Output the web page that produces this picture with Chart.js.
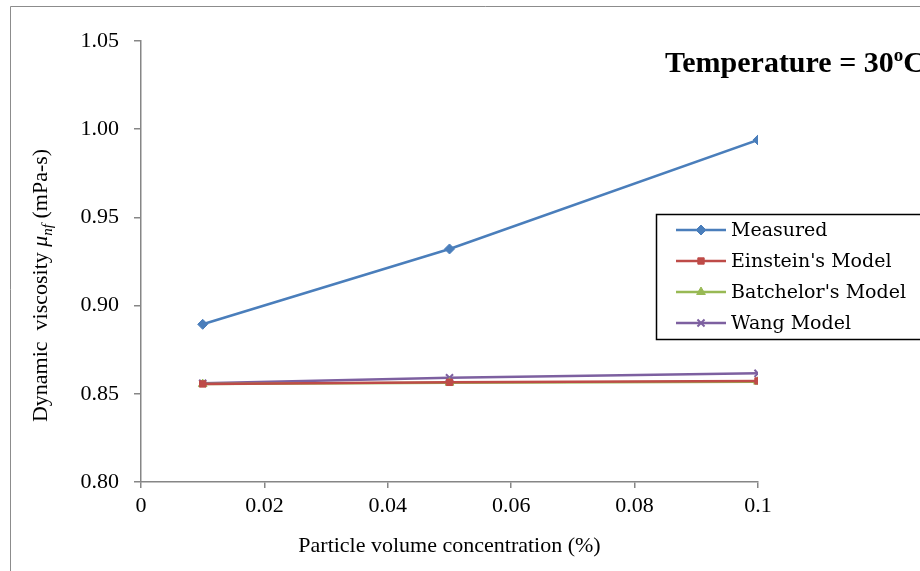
<!DOCTYPE html>
<html>
<head>
<meta charset="utf-8">
<script src="https://cdn.jsdelivr.net/npm/chart.js@4.4.0/dist/chart.umd.min.js"></script>
<style>
  html, body { margin: 0; padding: 0; background: #fff; overflow: hidden; }
  #wrap { position: absolute; left: 0; top: 0; width: 960px; height: 571px; }
</style>
</head>
<body>
<div id="wrap"><canvas id="chart" width="960" height="571"></canvas></div>
<script>
// Data
const concentration = [0.01, 0.05, 0.1];
const measured = [0.8894, 0.9321, 0.9939];
const einstein = [0.8556, 0.8565, 0.8573];
const batchelor = [0.8555, 0.8563, 0.8569];
const wang = [0.8560, 0.8591, 0.8616];

const seriesNames = ['Measured', "Einstein's Model", "Batchelor's Model", 'Wang Model'];
const xTicks = [0, 0.02, 0.04, 0.06, 0.08, 0.1];
const yTicks = [0.80, 0.85, 0.90, 0.95, 1.00, 1.05];

const axisGray = '#868686';
const tickFont = { family: '"Liberation Serif", serif', size: 22 };

function toPoints(values) {
    return concentration.map((x, i) => ({ x: x, y: values[i] }));
}

function makeSet(label, values, color, style, radius) {
    return {
        label: label,
        data: toPoints(values),
        borderColor: color,
        backgroundColor: color,
        borderWidth: 2.5,
        pointStyle: style,
        pointRadius: radius,
        pointBorderWidth: style === 'crossRot' ? 2 : 1,
        pointBorderColor: color,
        pointBackgroundColor: color,
        tension: 0,
        fill: false
    };
}

// outer frame of the chart object (only left and top edges are visible)
const framePlugin = {
    id: 'frame',
    beforeDraw(chart) {
        const ctx = chart.ctx;
        ctx.save();
        ctx.strokeStyle = '#8c8c8c';
        ctx.lineWidth = 1;
        ctx.beginPath();
        ctx.moveTo(10.5, 600);
        ctx.lineTo(10.5, 6.5);
        ctx.lineTo(960, 6.5);
        ctx.stroke();
        ctx.restore();
    }
};

// title with superscript "o"
const titlePlugin = {
    id: 'tempTitle',
    afterDraw(chart) {
        const ctx = chart.ctx;
        ctx.save();
        ctx.fillStyle = '#000';
        ctx.textBaseline = 'alphabetic';
        ctx.font = 'bold 30px "Liberation Serif", serif';
        const main = 'Temperature = 30';
        let x = 665, y = 72;
        ctx.fillText(main, x, y);
        x += ctx.measureText(main).width;
        ctx.font = 'bold 19px "Liberation Serif", serif';
        ctx.fillText('o', x, y - 11);
        x += ctx.measureText('o').width;
        ctx.font = 'bold 30px "Liberation Serif", serif';
        ctx.fillText('C', x, y);
        ctx.restore();
    }
};

// y axis title with italic mu and subscript nf
const yTitlePlugin = {
    id: 'yTitle',
    afterDraw(chart) {
        const ctx = chart.ctx;
        const area = chart.chartArea;
        const parts = [
            { t: 'Dynamic  viscosity ', f: '22px "Liberation Serif", serif', dy: 0 },
            { t: '\u03bc', f: 'italic 22px "Liberation Serif", serif', dy: 0 },
            { t: 'nf', f: 'italic 15px "Liberation Serif", serif', dy: 5 },
            { t: ' (mPa-s)', f: '22px "Liberation Serif", serif', dy: 0 }
        ];
        ctx.save();
        let total = 0;
        parts.forEach(p => { ctx.font = p.f; p.w = ctx.measureText(p.t).width; total += p.w; });
        ctx.translate(47, (area.top + area.bottom) / 2 + 24);
        ctx.rotate(-Math.PI / 2);
        ctx.fillStyle = '#000';
        ctx.textBaseline = 'alphabetic';
        let x = -total / 2;
        parts.forEach(p => {
            ctx.font = p.f;
            ctx.fillText(p.t, x, p.dy);
            x += p.w;
        });
        ctx.restore();
    }
};

// boxed legend with line + marker samples
const legendPlugin = {
    id: 'boxLegend',
    afterDraw(chart) {
        const ctx = chart.ctx;
        const left = 656, top = 214, rowH = 31;
        ctx.save();
        ctx.fillStyle = '#fff';
        ctx.fillRect(left, top, 320, 125);
        ctx.strokeStyle = '#000';
        ctx.lineWidth = 1.5;
        ctx.strokeRect(left + 0.5, top + 0.5, 320, 125);
        ctx.font = '19px "DejaVu Serif", serif';
        ctx.textBaseline = 'middle';
        chart.data.datasets.forEach((ds, i) => {
            const cy = top + 16 + i * rowH;
            ctx.strokeStyle = ds.borderColor;
            ctx.lineWidth = 2.5;
            ctx.beginPath();
            ctx.moveTo(left + 20, cy);
            ctx.lineTo(left + 70, cy);
            ctx.stroke();
            ctx.fillStyle = ds.pointBackgroundColor;
            ctx.strokeStyle = ds.pointBorderColor;
            ctx.lineWidth = ds.pointBorderWidth;
            Chart.helpers.drawPoint(ctx, {
                pointStyle: ds.pointStyle,
                radius: ds.pointRadius,
                rotation: 0,
                borderWidth: ds.pointBorderWidth
            }, left + 45, cy);
            ctx.fillStyle = '#000';
            ctx.fillText(ds.label, left + 75, cy + 1);
        });
        ctx.restore();
    }
};

const ctx = document.getElementById('chart').getContext('2d');
const chart = new Chart(ctx, {
    type: 'line',
    data: {
        datasets: [
            makeSet(seriesNames[0], measured, '#4A7EBB', 'rectRot', 5),
            makeSet(seriesNames[1], einstein, '#BE4B48', 'rect', 4.5),
            makeSet(seriesNames[2], batchelor, '#98B954', 'triangle', 5),
            makeSet(seriesNames[3], wang, '#7D60A0', 'crossRot', 5)
        ]
    },
    options: {
        responsive: false,
        animation: false,
        layout: { padding: { left: 0, right: 202, top: 41, bottom: 0 } },
        plugins: {
            legend: { display: false },
            title: { display: false },
            tooltip: { enabled: false }
        },
        scales: {
            x: {
                type: 'linear',
                min: 0,
                max: 0.1,
                afterBuildTicks(scale) { scale.ticks = xTicks.map(v => ({ value: v })); },
                afterFit(scale) { scale.height = 89; },
                ticks: {
                    color: '#000',
                    font: tickFont,
                    padding: 5,
                    maxRotation: 0,
                    callback: v => String(parseFloat(v.toFixed(2)))
                },
                grid: { drawOnChartArea: false, drawTicks: true, tickLength: 6, color: axisGray, lineWidth: 1.5 },
                border: { color: axisGray, width: 1.5 },
                title: {
                    display: true,
                    text: 'Particle volume concentration (%)',
                    color: '#000',
                    font: { family: '"Liberation Serif", serif', size: 22 },
                    padding: { top: 4, bottom: 12 }
                }
            },
            y: {
                type: 'linear',
                min: 0.8,
                max: 1.05,
                afterBuildTicks(scale) { scale.ticks = yTicks.map(v => ({ value: v })); },
                afterFit(scale) { scale.width = 141; },
                ticks: {
                    color: '#000',
                    font: tickFont,
                    padding: 15,
                    callback: v => v.toFixed(2)
                },
                grid: { drawOnChartArea: false, drawTicks: true, tickLength: 7, color: axisGray, lineWidth: 1.5 },
                border: { color: axisGray, width: 1.5 }
            }
        }
    },
    plugins: [framePlugin, titlePlugin, yTitlePlugin, legendPlugin]
});
</script>
</body>
</html>
